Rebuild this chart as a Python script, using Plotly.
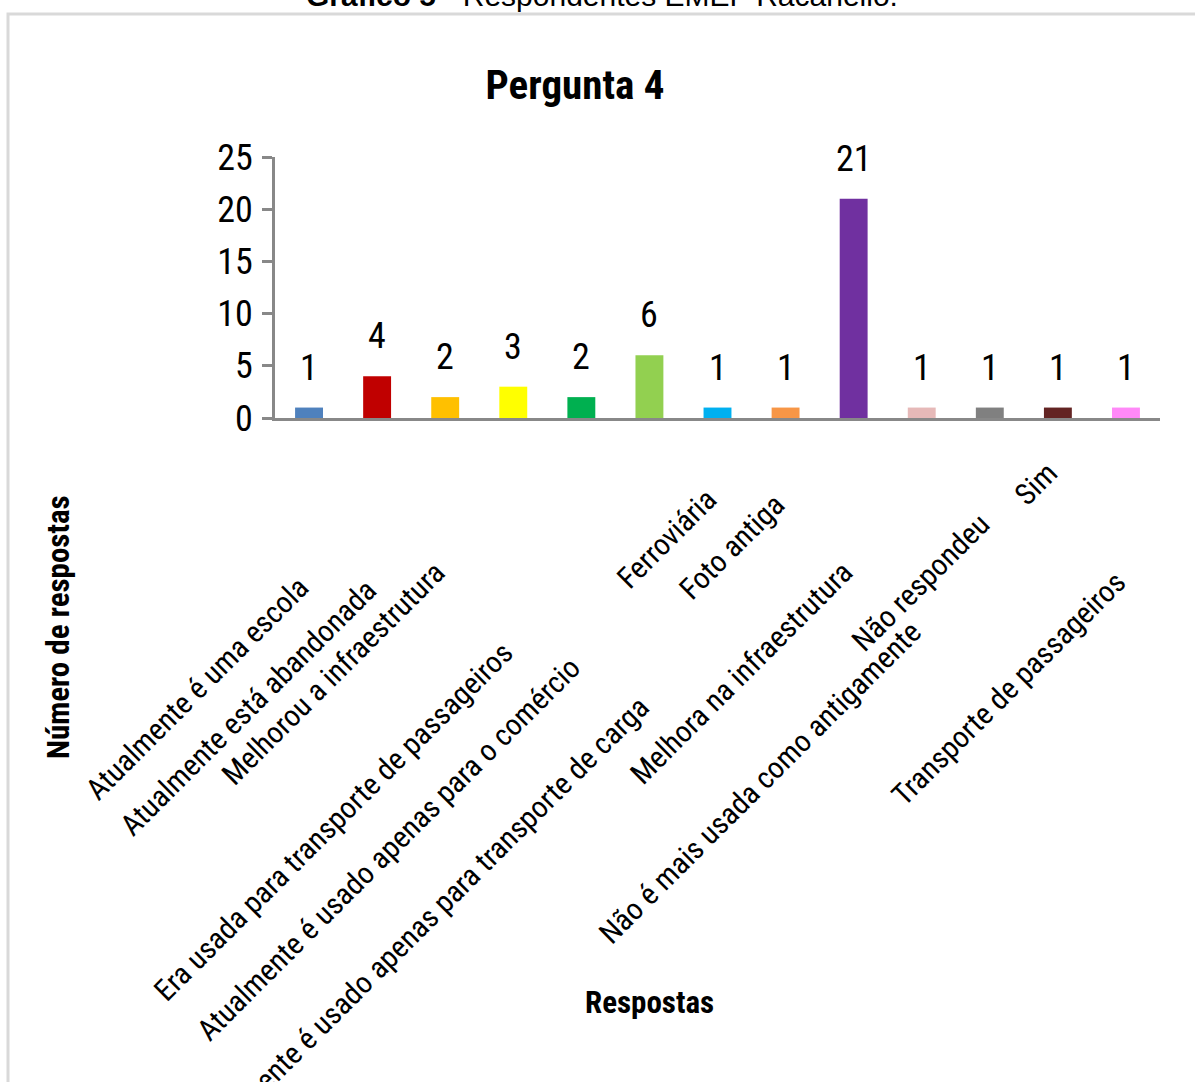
import plotly.graph_objects as go

# Respostas à Pergunta 4
categorias = [
    "Atualmente é uma escola",
    "Atualmente está abandonada",
    "Melhorou a infraestrutura",
    "Era usada para transporte de passageiros",
    "Atualmente é usado apenas para o comércio",
    "Atualmente é usado apenas para transporte de carga",
    "Ferroviária",
    "Foto antiga",
    "Melhora na infraestrutura",
    "Não é mais usada como antigamente",
    "Não respondeu",
    "Sim",
    "Transporte de passageiros",
]
respostas = [1, 4, 2, 3, 2, 6, 1, 1, 21, 1, 1, 1, 1]
cores = [
    "#4F81BD", "#C00000", "#FFC000", "#FFFF00", "#00B050", "#92D050",
    "#00B0F0", "#F79646", "#7030A0", "#E6B9B8", "#808080", "#632423",
    "#FF89F8",
]
ticks_y = [0, 5, 10, 15, 20, 25]

# staggered vertical drop (px) of each rotated category label
desloc_rotulos = [149, 152, 134, 214, 229, 269, 61, 66, 134, 194, 86, 34, 144]

NARROW = "Roboto Condensed, Archivo Narrow, DejaVu Sans Condensed, sans-serif"
PLAIN = "Liberation Sans, Arial, sans-serif"

W, H = 1195, 1082
ML, MR, MT, MB = 275, 35, 157, 664
PW = W - ML - MR
PH = H - MT - MB


def px_x(px):
    return (px - ML) / PW


def px_y(py):
    return (H - MB - py) / PH


fig = go.Figure(
    go.Bar(
        x=categorias,
        y=respostas,
        marker=dict(color=cores, line=dict(width=0)),
        width=0.41,
        hoverinfo="x+y",
    )
)

anns = []
# value labels above the bars
for c, v in zip(categorias, respostas):
    anns.append(dict(
        x=c, y=v, xref="x", yref="y", text=str(v), showarrow=False,
        yanchor="bottom", yshift=17,
        font=dict(family=NARROW, size=36, color="#000000"),
    ))
# rotated category labels
for c, d in zip(categorias, desloc_rotulos):
    anns.append(dict(
        x=c, y=0, xref="x", yref="y", text=c, showarrow=False,
        textangle=-45, xanchor="right", yanchor="top",
        xshift=9, yshift=-d,
        font=dict(family=NARROW, size=30, color="#000000"),
    ))
# axis titles
anns.append(dict(
    x=px_x(58), y=px_y(627), xref="paper", yref="paper",
    text="<b>Número de respostas</b>", showarrow=False, textangle=-90,
    xanchor="center", yanchor="middle",
    font=dict(family=NARROW, size=31, color="#000000"),
))
anns.append(dict(
    x=px_x(649), y=px_y(1002), xref="paper", yref="paper",
    text="<b>Respostas</b>", showarrow=False,
    xanchor="center", yanchor="middle",
    font=dict(family=NARROW, size=31, color="#000000"),
))
# figure caption above the frame
anns.append(dict(
    x=px_x(602), y=px_y(-4), xref="paper", yref="paper",
    text="<b>Gráfico 5</b> - Respondentes EMEF Racanello.", showarrow=False,
    xanchor="center", yanchor="middle",
    font=dict(family=PLAIN, size=30, color="#000000"),
))

fig.update_layout(
    width=W, height=H,
    margin=dict(l=ML, r=MR, t=MT, b=MB, pad=0),
    paper_bgcolor="#FFFFFF",
    plot_bgcolor="#FFFFFF",
    showlegend=False,
    title=dict(
        text="<b>Pergunta 4</b>",
        x=575 / W, xanchor="center",
        y=1 - 85 / H, yanchor="middle",
        font=dict(family=NARROW, size=41, color="#000000"),
    ),
    xaxis=dict(
        type="category",
        range=[-0.5, len(categorias) - 0.5],
        autorange=False,
        showticklabels=False,
        showgrid=False,
        zeroline=False,
        showline=True, linecolor="#888888", linewidth=3,
        ticks="",
    ),
    yaxis=dict(
        range=[0, 25],
        autorange=False,
        tickvals=ticks_y,
        showgrid=False,
        zeroline=False,
        showline=True, linecolor="#888888", linewidth=3,
        ticks="outside", ticklen=10, tickwidth=3, tickcolor="#888888",
        tickfont=dict(family=NARROW, size=36, color="#000000"),
        ticklabelstandoff=2,
    ),
    annotations=anns,
    shapes=[dict(
        type="rect", xref="paper", yref="paper",
        x0=px_x(8), y0=px_y(1100), x1=px_x(1220), y1=px_y(14),
        line=dict(color="#D9D9D9", width=3), fillcolor="rgba(0,0,0,0)",
        layer="below",
    )],
)

fig.write_html("out.html")
